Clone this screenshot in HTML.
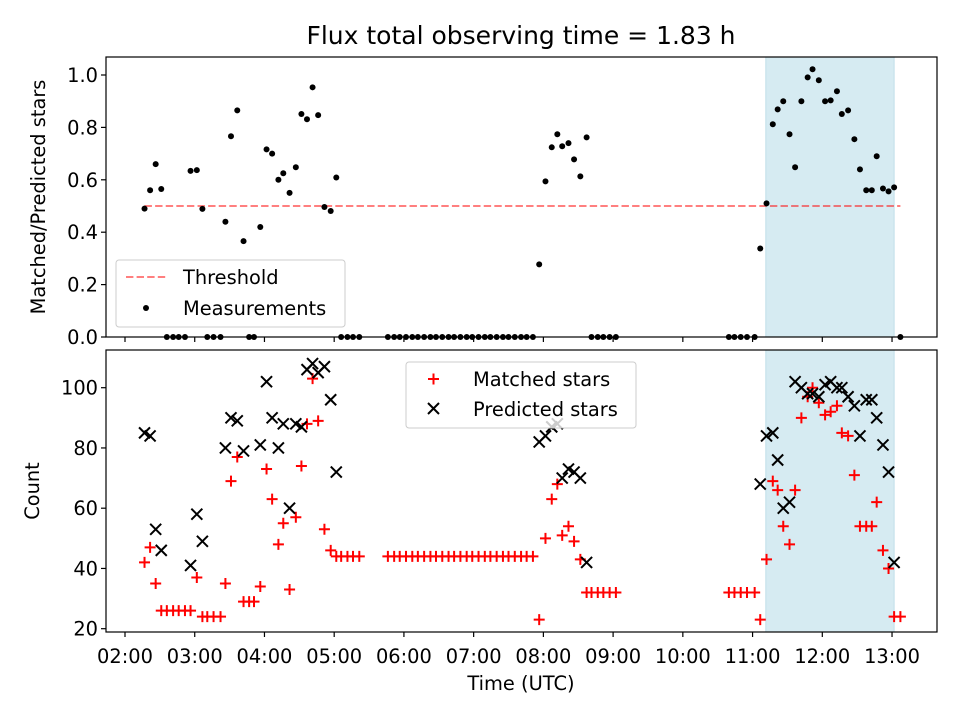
<!DOCTYPE html>
<html><head><meta charset="utf-8"><style>
body{margin:0;background:#fff;}
svg{display:block;font-family:"DejaVu Sans","Liberation Sans",sans-serif;}
</style></head><body>
<svg id="chart" width="960" height="720" viewBox="0 0 960 720"></svg>
<script>
const times=[2.28,2.36,2.44,2.52,2.60,2.69,2.77,2.86,2.94,3.03,3.11,3.18,3.27,3.37,3.44,3.52,3.61,3.70,3.78,3.85,3.94,4.03,4.11,4.20,4.27,4.36,4.45,4.53,4.61,4.69,4.77,4.86,4.95,5.03,5.10,5.19,5.27,5.36,
5.77,5.86,5.94,6.03,6.12,6.20,6.29,6.38,6.46,6.55,6.64,6.72,6.81,6.90,6.98,7.07,7.16,7.24,7.33,7.42,7.50,7.59,7.68,7.76,7.85,
7.94,8.03,8.12,8.20,8.27,8.36,8.44,8.53,8.62,8.69,8.78,8.86,8.95,9.04,
10.66,10.74,10.83,10.92,11.03,11.11,11.20,11.29,11.36,11.44,11.53,11.61,11.70,11.79,11.86,11.95,12.04,12.12,12.21,12.28,12.37,12.46,12.54,12.63,12.71,12.78,12.87,12.95,13.03,13.12];
const matched=[42,47,35,26,26,26,26,26,26,37,24,24,24,24,35,69,77,29,29,29,34,73,63,48,55,33,57,74,88,103,89,53,46,44,44,44,44,44,
44,44,44,44,44,44,44,44,44,44,44,44,44,44,44,44,44,44,44,44,44,44,44,44,44,
23,50,63,68,51,54,49,43,32,32,32,32,32,32,
32,32,32,32,32,23,43,69,66,54,48,66,90,97,100,95,91,92,94,85,84,71,54,54,54,62,46,40,24,24];
const predicted=[85,84,53,46,null,null,null,null,41,58,49,null,null,null,80,90,89,79,null,null,81,102,90,80,88,60,88,87,106,108,105,107,96,72,null,null,null,null,
null,null,null,null,null,null,null,null,null,null,null,null,null,null,null,null,null,null,null,null,null,null,null,null,null,
82,84,87,88,70,73,72,70,42,null,null,null,null,null,
null,null,null,null,null,68,84,85,76,60,62,102,100,98,98,97,101,102,100,100,97,94,84,96,96,90,81,72,42,null];
const ratio=[0.49,0.56,0.66,0.565,0,0,0,0,0.634,0.637,0.489,0,0,0,0.44,0.766,0.865,0.366,0,0,0.42,0.716,0.70,0.60,0.625,0.55,0.648,0.851,0.831,0.953,0.847,0.496,0.481,0.609,0,0,0,0,
0,0,0,0,0,0,0,0,0,0,0,0,0,0,0,0,0,0,0,0,0,0,0,0,0,
0.277,0.594,0.724,0.774,0.728,0.74,0.678,0.613,0.762,0,0,0,0,0,
0,0,0,0,0,0.338,0.51,0.812,0.869,0.90,0.774,0.648,0.90,0.991,1.022,0.98,0.90,0.903,0.938,0.851,0.865,0.755,0.64,0.56,0.56,0.69,0.567,0.556,0.571,0];
const threshold=0.5;
const highlightStart=11.19, highlightEnd=13.03;
const xTickHours=[2,3,4,5,6,7,8,9,10,11,12,13];
const topTicks=[0.0,0.2,0.4,0.6,0.8,1.0];
const botTicks=[20,40,60,80,100];

const NS="http://www.w3.org/2000/svg";
const svg=document.getElementById('chart');
function mk(tag,attrs,parent){const e=document.createElementNS(NS,tag);for(const k in attrs)e.setAttribute(k,attrs[k]);(parent||svg).appendChild(e);return e;}
const X=h=>125+(h-2)*69.73;
const Ytop=v=>337-v*262;
const Ybot=v=>628.7-(v-20)*3.0125;
const L=106,R=937;
const FS=19.4;
function pad(h){return (h<10?'0':'')+h+':00';}

let t=mk('text',{x:521,y:44,'text-anchor':'middle','font-size':25});t.textContent='Flux total observing time = 1.83 h';



function panel(y0,y1,name){
  const g=mk('g',{});
  
  
  const sh=mk('rect',{x:X(highlightStart),y:y0,width:X(highlightEnd)-X(highlightStart),height:y1-y0,fill:'#d6ebf2',stroke:'#c0dfe9','stroke-width':1},g);
  
  
  return g;
}
const gt=panel(57,337,'top-panel');
const gb=panel(350,632,'bottom-panel');

const th=mk('line',{x1:X(times[0]),x2:X(times[times.length-1]),y1:Ytop(threshold),y2:Ytop(threshold),stroke:'#ff0000','stroke-opacity':0.5,'stroke-width':2,'stroke-dasharray':'7.4,3.2'},gt);



times.forEach((h,i)=>{const c=mk('circle',{cx:X(h),cy:Ytop(ratio[i]),r:3,fill:'#000'},gt);

});

times.forEach((h,i)=>{const x=X(h),y=Ybot(matched[i]);
const p=mk('path',{d:`M${x-5.5},${y}H${x+5.5}M${x},${y-5.5}V${y+5.5}`,stroke:'#ff0000','stroke-width':2},gb);

});
times.forEach((h,i)=>{if(predicted[i]==null)return;const x=X(h),y=Ybot(predicted[i]);
const p=mk('path',{d:`M${x-5.5},${y-5.5}L${x+5.5},${y+5.5}M${x-5.5},${y+5.5}L${x+5.5},${y-5.5}`,stroke:'#000','stroke-width':2},gb);

});

function frame(y0,y1,name){const f=mk('rect',{x:L,y:y0,width:R-L,height:y1-y0,fill:'none',stroke:'#000','stroke-width':1.2});


xTickHours.forEach(h=>mk('line',{x1:X(h),x2:X(h),y1:y1,y2:y1+5,stroke:'#000','stroke-width':1.2}));}
frame(57,337,'top-frame');frame(350,632,'bottom-frame');
xTickHours.forEach(h=>{const tx=mk('text',{x:X(h),y:663,'text-anchor':'middle','font-size':FS});tx.textContent=pad(h);

});
topTicks.forEach(v=>{mk('line',{x1:L-5,x2:L,y1:Ytop(v),y2:Ytop(v),stroke:'#000','stroke-width':1.2});
const tx=mk('text',{x:L-8,y:Ytop(v)+7,'text-anchor':'end','font-size':FS});tx.textContent=v.toFixed(1);

});
botTicks.forEach(v=>{mk('line',{x1:L-5,x2:L,y1:Ybot(v),y2:Ybot(v),stroke:'#000','stroke-width':1.2});
const tx=mk('text',{x:L-8,y:Ybot(v)+7,'text-anchor':'end','font-size':FS});tx.textContent=v;

});

let a=mk('text',{x:0,y:0,'text-anchor':'middle','font-size':FS,transform:'translate(45,197) rotate(-90)'});a.textContent='Matched/Predicted stars';


a=mk('text',{x:0,y:0,'text-anchor':'middle','font-size':FS,transform:'translate(39,491) rotate(-90)'});a.textContent='Count';


a=mk('text',{x:521,y:690,'text-anchor':'middle','font-size':FS});a.textContent='Time (UTC)';



let lg=mk('g',{});


mk('rect',{x:116,y:260,width:229,height:67,rx:3,fill:'#fff','fill-opacity':0.8,stroke:'#ccc'},lg);
mk('line',{x1:126,x2:166,y1:277,y2:277,stroke:'#ff0000','stroke-opacity':0.5,'stroke-width':2,'stroke-dasharray':'7.4,3.2'},lg);
let lt=mk('text',{x:183,y:284,'font-size':FS},lg);lt.textContent='Threshold';
mk('circle',{cx:146,cy:308,r:3,fill:'#000'},lg);
lt=mk('text',{x:183,y:315,'font-size':FS},lg);lt.textContent='Measurements';

lg=mk('g',{});


mk('rect',{x:406,y:362,width:230,height:66,rx:3,fill:'#fff','fill-opacity':0.8,stroke:'#ccc'},lg);
mk('path',{d:'M428,379H439M433.5,373.5V384.5',stroke:'#ff0000','stroke-width':2},lg);
lt=mk('text',{x:473,y:386,'font-size':FS},lg);lt.textContent='Matched stars';
mk('path',{d:'M428,403L439,414M428,414L439,403',stroke:'#000','stroke-width':2},lg);
lt=mk('text',{x:473,y:416,'font-size':FS},lg);lt.textContent='Predicted stars';
</script>
</body></html>
